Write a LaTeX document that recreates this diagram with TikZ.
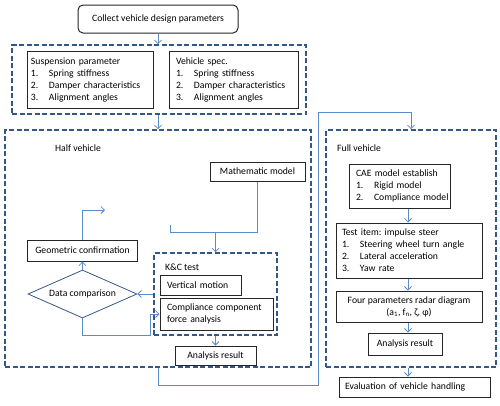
\documentclass[tikz,border=0pt]{standalone}
\usepackage{fontspec}
\setmainfont{Carlito}
\usetikzlibrary{arrows.meta,shapes.geometric}
\definecolor{dblue}{HTML}{34578A}
\definecolor{lblue}{HTML}{5B8BC9}
\newcommand\li[2]{\mbox{\makebox[18pt][l]{#1}#2}}
\newcommand\padt[2]{\leftskip=#1\relax\rightskip=0pt plus 1fil minus 20pt\relax #2\par}
\tikzset{
  every node/.style={font=\fontsize{9.7pt}{12pt}\selectfont\frenchspacing},
  box/.style={draw=black!85, line width=1pt, inner sep=0pt, align=center},
  lbox/.style={box, align=left, inner xsep=0pt},
  dbox/.style={draw=dblue, line width=1.6pt, dash pattern=on 5pt off 2.5pt, inner sep=0pt},
  ln/.style={draw=lblue, line width=0.8pt},
  arr/.style={ln, -{Straight Barb[length=3.5pt,width=7pt]}},
  lbl/.style={anchor=west, inner sep=0pt}
}
\begin{document}
\begin{tikzpicture}[x=1pt,y=-1pt]
\useasboundingbox (0,0) rectangle (500,405);
% top
\node[box, rounded corners=5pt, minimum width=160, minimum height=28] (collect) at (158,19) {Collect vehicle design parameters};
\node[dbox, minimum width=294, minimum height=69] (params) at (159,79.5) {};
\node[lbox, minimum width=126, minimum height=57, text width=126pt] (susp) at (90,79.5)
  {\padt{4pt}{Suspension parameter\\ \li{1.}{Spring stiffness}\\ \li{2.}{Damper characteristics}\\ \li{3.}{Alignment angles}}};
\node[lbox, minimum width=129, minimum height=57, text width=129pt] (spec) at (233.5,79.5)
  {\padt{7pt}{Vehicle spec.\\ \li{1.}{Spring stiffness}\\ \li{2.}{Damper characteristics}\\ \li{3.}{Alignment angles}}};
\draw[arr] (collect.south) -- (collect.south |- params.north);
% half vehicle
\node[dbox, minimum width=306, minimum height=237] (half) at (158,248.5) {};
\node[lbl] (halflbl) at (55,148) {Half vehicle};
\draw[arr] (params.south -| half.north) -- (half.north);
\node[box, minimum width=95, minimum height=19] (math) at (257.5,171.5) {Mathematic model};
\node[dbox, minimum width=123, minimum height=82] (kc) at (215.5,294) {};
\node[lbl] (kclbl) at (165,267) {K\&C test};
\node[lbox, minimum width=81, minimum height=20, text width=81pt] (vert) at (200.5,285) {\padt{7pt}{Vertical motion}};
\node[lbox, minimum width=113, minimum height=32, text width=113pt] (comp) at (216.5,314) {\padt{7pt}{Compliance component\\ force analysis}};
\node[box, minimum width=81, minimum height=19] (ana1) at (215.5,355.5) {Analysis result};
\node[shape=diamond, draw=dblue, line width=0.8pt, inner sep=0pt, aspect=2.27, minimum width=109, minimum height=48] (diam) at (82.5,294) {Data comparison};
\node[box, minimum width=110, minimum height=21] (geo) at (82.5,250.5) {Geometric confirmation};
\coordinate (brk) at (170,232);
\coordinate (fb) at (105,210);
\coordinate (c1) at (150,335);
\draw[ln] (math.south) |- (brk) -- ++(0,-7);
\draw[arr] (kc.north |- brk) -- (kc.north);
\draw[arr] (diam.north) -- (geo.south);
\draw[arr] (geo.north) |- (fb);
\draw[arr] (kc.west |- diam.east) -- (diam.east);
\draw[arr] (diam.south) |- (c1) |- (comp.west);
\draw[arr] (kc.south) -- (ana1.north);
% full vehicle
\node[dbox, minimum width=170, minimum height=237] (full) at (411,248.5) {};
\node[lbl] (fulllbl) at (337,148) {Full vehicle};
\node[lbox, minimum width=101, minimum height=44, text width=101pt] (cae) at (399.5,186)
  {\padt{7pt}{CAE model establish\\ \li{1.}{Rigid model}\\ \li{2.}{Compliance model}}};
\node[lbox, minimum width=146, minimum height=55, text width=146pt] (test) at (409,250.5)
  {\padt{6pt}{Test item: impulse steer\\ \li{1.}{Steering wheel turn angle}\\ \li{2.}{Lateral acceleration}\\ \li{3.}{Yaw rate}}};
\node[box, minimum width=146, minimum height=31] (radar) at (409,306.5)
  {Four parameters radar diagram\\ (a\textsubscript{1}, f\textsubscript{n}, ζ, φ)};
\node[box, minimum width=74, minimum height=22] (ana2) at (405,344) {Analysis result};
\node[lbox, minimum width=151, minimum height=20, text width=151pt] (eval) at (414.5,387) {\padt{6pt}{Evaluation of vehicle handling}};
\coordinate (rx) at (408,0);
\draw[arr] (cae.south -| rx) -- (test.north -| rx);
\draw[arr] (test.south -| rx) -- (radar.north -| rx);
\draw[arr] (radar.south -| rx) -- (ana2.north -| rx);
\draw[arr] (full.south -| rx) -- (eval.north -| rx);
% half -> full connector
\coordinate (b1) at (318,385);
\coordinate (b2) at (411,112);
\draw[arr] (half.south) |- (b1) |- (b2) -- (full.north);
\end{tikzpicture}
\end{document}
